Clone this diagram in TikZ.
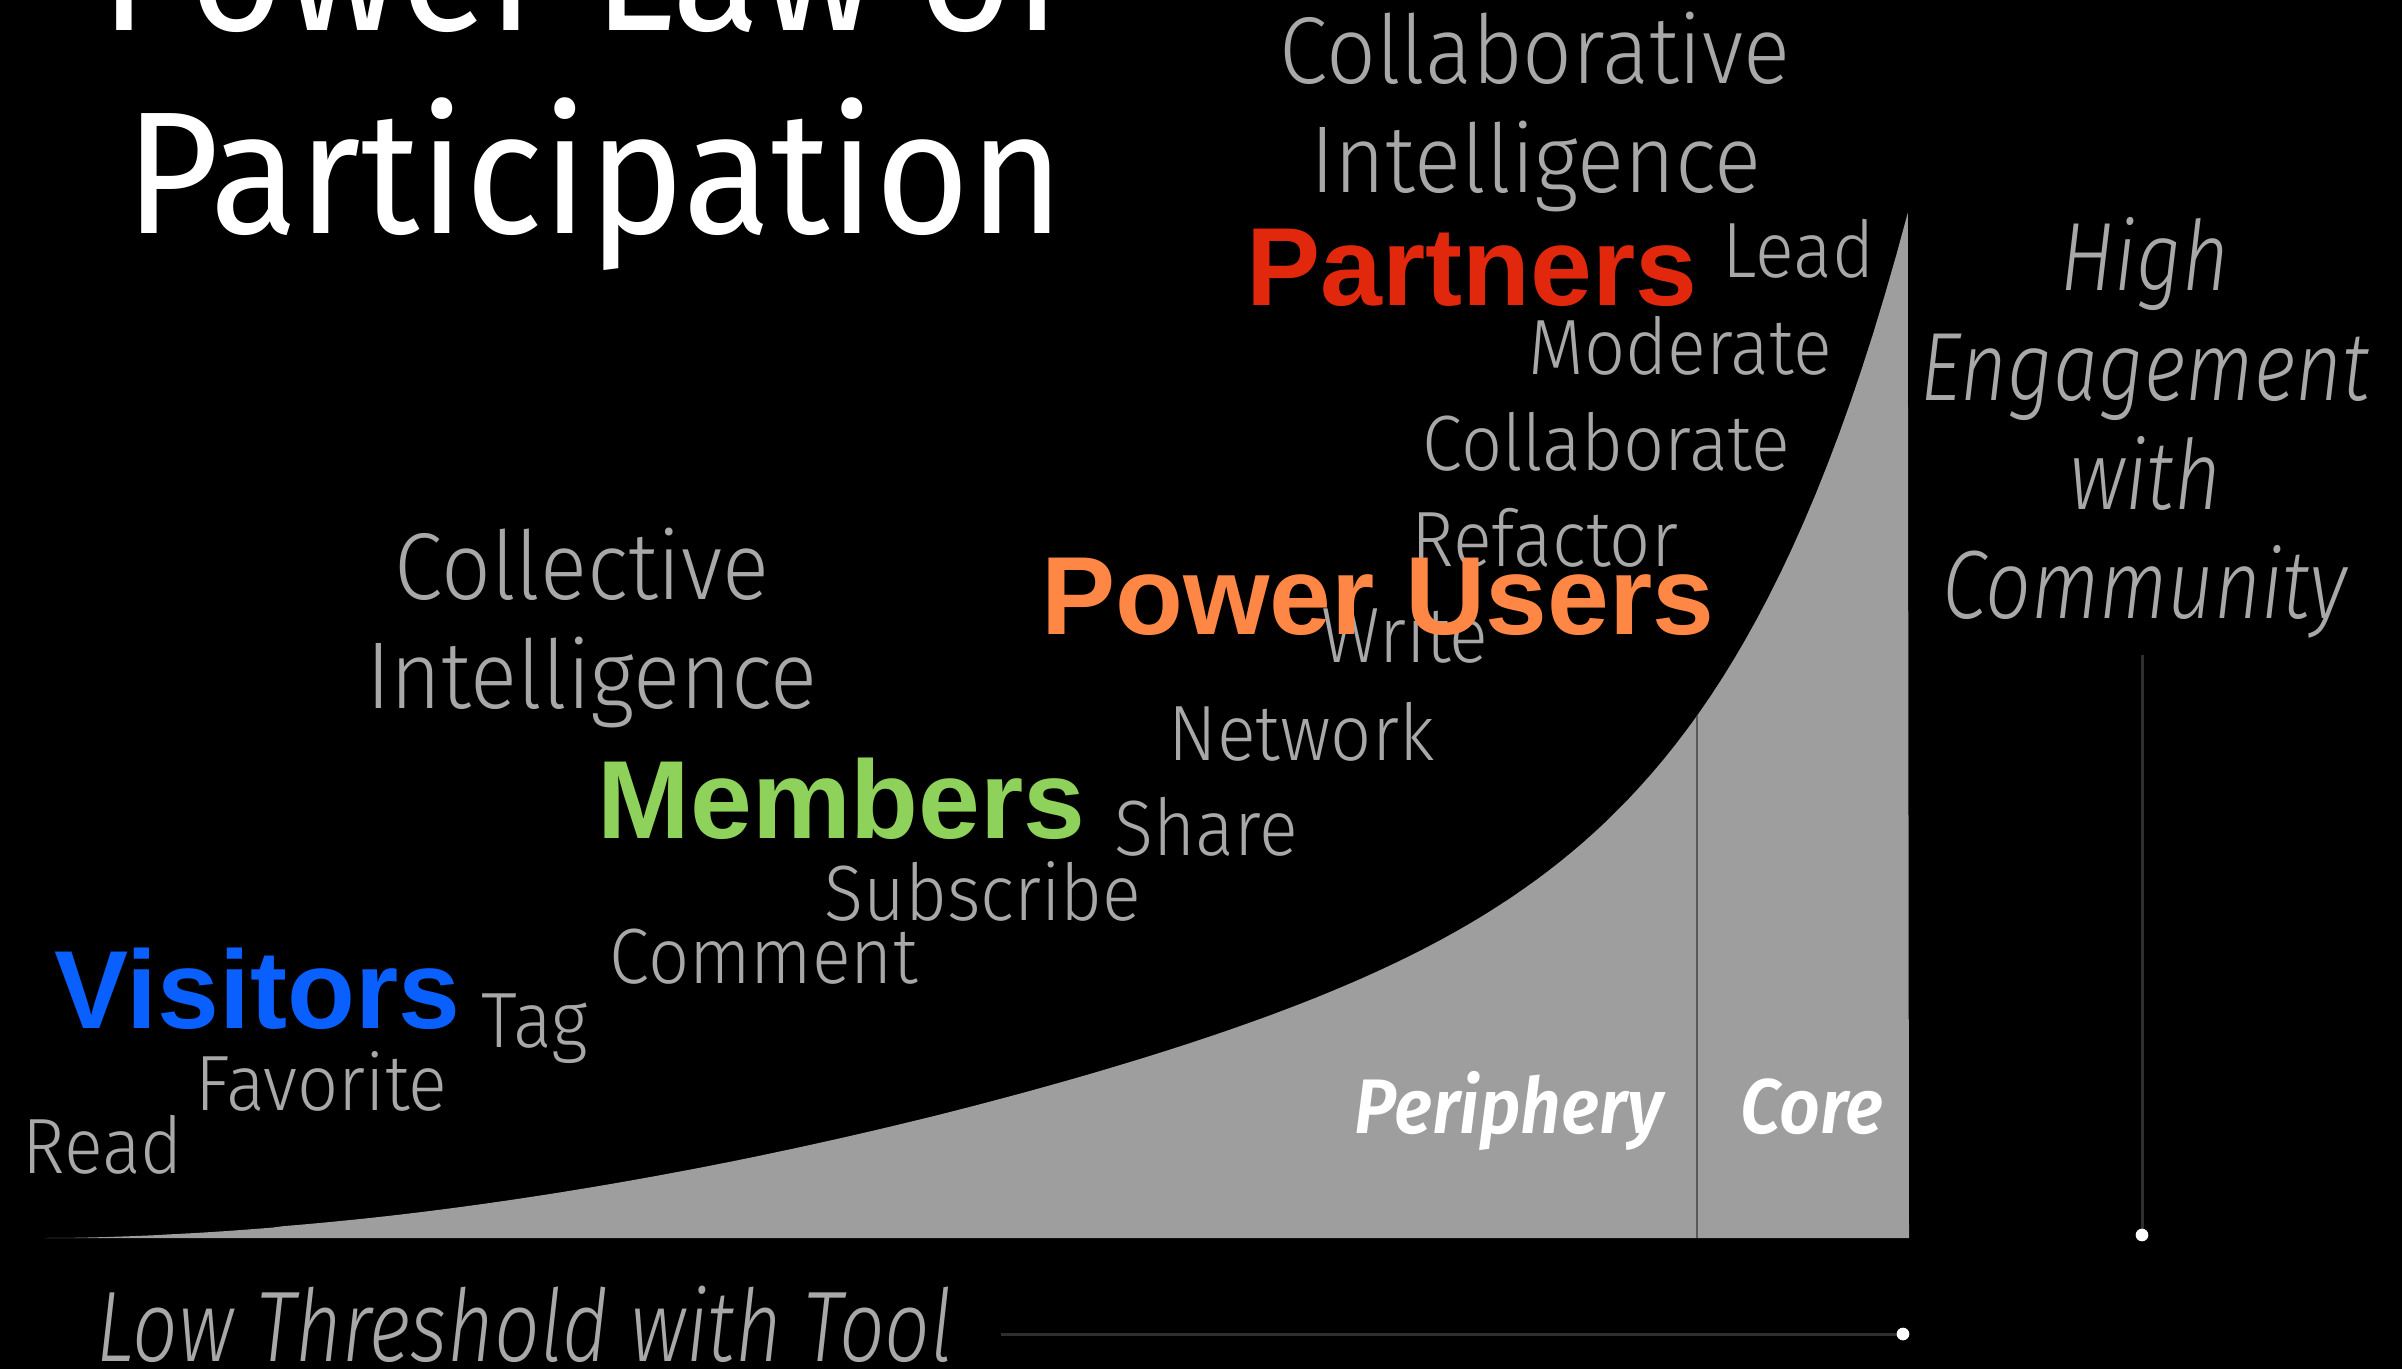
\documentclass[tikz,border=0pt]{standalone}
\usepackage{fontspec}
\usepackage{xcolor}
\usetikzlibrary{positioning}

\newfontfamily\titlefont{Fira Sans}[FakeStretch=0.93]
\newfontfamily\thinfont{Fira Sans}[UprightFont={* Light}, ItalicFont={* Light Italic}, FakeStretch=0.92]
\newfontfamily\slimfont{Fira Sans}[UprightFont={* Light Italic}, FakeStretch=0.83]
\newfontfamily\lowfont{Fira Sans}[UprightFont={* Light Italic}, FakeStretch=0.8]
\newfontfamily\zonefont{Fira Sans}[UprightFont={* SemiBold Italic}, FakeStretch=0.92]
\newfontfamily\groupfont{Liberation Sans}[UprightFont={* Bold}]

\definecolor{areagray}{HTML}{9E9E9E}
\definecolor{wordgray}{HTML}{A8A8A8}
\definecolor{visitblue}{HTML}{0A5FFF}
\definecolor{membgreen}{HTML}{8ED25C}
\definecolor{powerorange}{HTML}{FF8746}
\definecolor{partred}{HTML}{E1280C}

% the participation curve, in pixels from the top left corner
\newcommand\partcurve{(45,1238) -- plot[domain=0.01:1, samples=160]
  ({45+1863*\x}, {1238-1026*(0.45*\x^1.8+0.55*\x^11)})
  -- (1909,1238) -- cycle}

\tikzset{
  word/.style={text=wordgray, inner sep=0, anchor=base west,
    font=\thinfont\fontsize{22.3}{24}\selectfont},
  bigword/.style={text=wordgray, inner sep=0, anchor=base,
    font=\thinfont\fontsize{27}{28}\selectfont},
  side/.style={text=wordgray, inner sep=0, anchor=base,
    font=\slimfont\fontsize{27.6}{28}\selectfont},
  group/.style={inner sep=0, font=\groupfont\fontsize{31.6}{32}\selectfont},
  zone/.style={text=white, inner sep=0, anchor=base west,
    font=\zonefont\fontsize{22}{24}\selectfont},
  title/.style={text=white, inner sep=0, anchor=base,
    font=\titlefont\fontsize{49.5}{50}\selectfont},
  guide/.style={draw=black!82, line width=0.85pt}
}

\begin{document}
\begin{tikzpicture}[x=0.01cm,y=-0.01cm]
\fill[black] (0,0) rectangle (2402,1369);
\useasboundingbox (0,0) rectangle (2402,1369);

% area under the curve, split into periphery and core
\fill[areagray] \partcurve;
\begin{scope}
  \clip \partcurve;
  \draw[black!65, line width=0.6pt] (1697,1238) -- (1697,0);
\end{scope}

% guide lines with end dots
\draw[guide] (2142,655) -- (2142,1235);
\fill[white] (2142,1235) circle[radius=1.8pt];
\draw[guide] (1001,1334) -- (1900,1334);
\fill[white] (1903,1334) circle[radius=1.8pt];

% title
\node[title] (title1) at (584,30) {Power Law of};
\node[title] (title2) at (595,233) {Participation};

% kinds of intelligence
\node[bigword] (colab1) at (1535,83) {Collaborative};
\node[bigword] (colab2) at (1536,192) {Intelligence};
\node[bigword] (colle1) at (582,599) {Collective};
\node[bigword] (colle2) at (592,708) {Intelligence};

% actions along the curve
\foreach \t/\x/\y [count=\i] in {Read/22/1173, Favorite/195/1110, Tag/481/1047,
    Comment/609/983, Subscribe/824/920, Share/1114/855, Network/1168/760,
    Write/1321/662, Refactor/1411/566, Collaborate/1422/470,
    Moderate/1528/374, Lead/1722/277}
  \node[word] (act\i) at (\x,\y) {\t};

% engagement axes
\node[side] (high1) at (2145,290) {High};
\node[side] (high2) at (2145,400) {Engagement};
\node[side] (high3) at (2145,509) {with};
\node[side] (high4) at (2145,618) {Community};
\node[side, anchor=base west, font=\lowfont\fontsize{28.5}{29}\selectfont]
  (low) at (96,1361) {Low Threshold with Tool};

\node[zone] (periph) at (1354,1133) {Periphery};
\node[zone] (core) at (1740,1133) {Core};

% user groups
\node[group, text=visitblue, anchor=base west] (visit) at (54,1028) {Visitors};
\node[group, text=membgreen, anchor=base west] (memb) at (597,838) {Members};
\node[group, text=powerorange, anchor=base east] (power) at (1715,634) {Power Users};
\node[group, text=partred, anchor=base east] (part) at (1698,305) {Partners};
\end{tikzpicture}
\end{document}
